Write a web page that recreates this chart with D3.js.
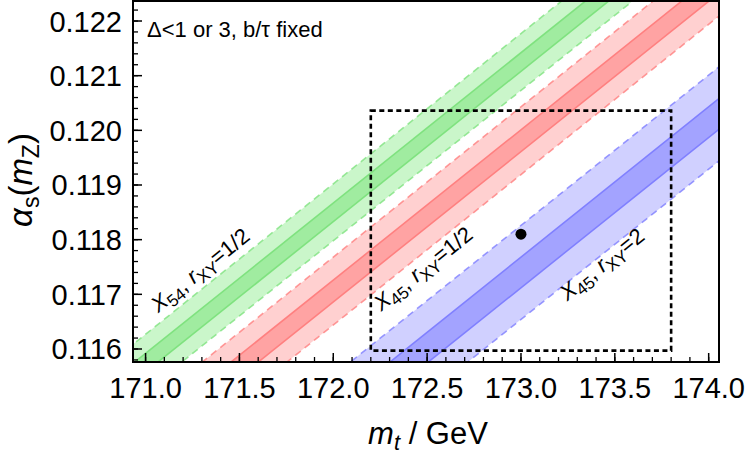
<!DOCTYPE html>
<html>
<head>
<meta charset="utf-8">
<script src="https://cdn.jsdelivr.net/npm/d3@7"></script>
<style>
  body { margin: 0; background: #fff; }
  text { font-family: "Liberation Sans", Arial, sans-serif; }
</style>
</head>
<body>
<div id="chart"></div>
<script>
// alpha_s(mZ) vs m_t bands
var mtDomain = [170.933, 174.055];
var asDomain = [0.115762, 0.122366];
var mtTicks = [171.0, 171.5, 172.0, 172.5, 173.0, 173.5, 174.0];
var asTicks = [0.116, 0.117, 0.118, 0.119, 0.120, 0.121, 0.122];

// each band: straight line alpha_s = centre + slope*(m_t - 173)
var bandNames = ["X54", "X45", "X45"];
var bandRatio = ["1/2", "1/2", "2"];
var bandCentre = [0.12125, 0.11981, 0.11740];   // alpha_s at m_t = 173 GeV
var bandOuter = [0.00052, 0.00062, 0.00086];    // half width, dashed edges
var bandInner = [0.00017, 0.00020, 0.00028];    // half width, solid edges
var bandSlope = 0.00275;                         // d alpha_s / d m_t
var bandFill = ["#a6f0a6", "#ffb0b0", "#b0b0ff"];
var bandCore = ["#8ee88e", "#ff9090", "#9090ff"];
var bandLine = ["#7fe27f", "#ff8080", "#8080ff"];

// label start (m_t) and offset from band centre
var labelMt = [171.067, 172.255, 173.246];
var labelOff = [0.00072, -0.00108, -0.00121];

// expected point and box
var pointMt = 173.0, pointAs = 0.1181;
var boxMt = [172.2, 173.8];
var boxAs = [0.11597, 0.12036];

var W = 750, H = 457;
var pL = 133, pR = 719, pT = 1, pB = 362;

var svg = d3.select("#chart").append("svg")
    .attr("width", W).attr("height", H);

var x = d3.scaleLinear().domain(mtDomain).range([pL, pR]);
var y = d3.scaleLinear().domain(asDomain).range([pB, pT]);

svg.append("clipPath").attr("id", "plotclip")
    .append("rect")
    .attr("x", pL).attr("y", pT)
    .attr("width", pR - pL).attr("height", pB - pT);

var plot = svg.append("g").attr("clip-path", "url(#plotclip)");

var mEnds = [170.5, 174.5];
function lineAt(c, off) {
    return mEnds.map(function(m) { return [x(m), y(c + off + bandSlope * (m - 173))]; });
}
function bandPoly(c, h) {
    var a = lineAt(c, h), b = lineAt(c, -h).reverse();
    return a.concat(b);
}

for (var i = 0; i < bandCentre.length; ++i)
{
    var c = bandCentre[i];
    plot.append("path")
        .attr("d", d3.line()(bandPoly(c, bandOuter[i])) + "Z")
        .attr("fill", bandFill[i]).attr("fill-opacity", 0.6);
    plot.append("path")
        .attr("d", d3.line()(bandPoly(c, bandInner[i])) + "Z")
        .attr("fill", bandCore[i]).attr("fill-opacity", 0.7);
    [bandInner[i], -bandInner[i]].forEach(function(h) {
        plot.append("path")
            .attr("d", d3.line()(lineAt(c, h)))
            .attr("fill", "none").attr("stroke", bandLine[i]).attr("stroke-width", 1.6);
    });
    [bandOuter[i], -bandOuter[i]].forEach(function(h) {
        plot.append("path")
            .attr("d", d3.line()(lineAt(c, h)))
            .attr("fill", "none").attr("stroke", bandLine[i]).attr("stroke-width", 1.6)
            .attr("stroke-dasharray", "7,5").attr("stroke-opacity", 0.8);
    });
}

// dashed box
svg.append("rect")
    .attr("x", x(boxMt[0])).attr("y", y(boxAs[1]))
    .attr("width", x(boxMt[1]) - x(boxMt[0]))
    .attr("height", y(boxAs[0]) - y(boxAs[1]))
    .attr("fill", "none").attr("stroke", "#000").attr("stroke-width", 2.6)
    .attr("stroke-dasharray", "5,3.5");

svg.append("circle")
    .attr("cx", x(pointMt)).attr("cy", y(pointAs)).attr("r", 5.5)
    .attr("fill", "#000");

// band labels
var angle = -Math.atan((y(0.116) - y(0.116 + bandSlope)) / (x(174) - x(173))) * 180 / Math.PI;
for (var i = 0; i < bandCentre.length; ++i)
{
    var m0 = labelMt[i];
    var a0 = bandCentre[i] + labelOff[i] + bandSlope * (m0 - 173);
    var t = svg.append("text")
        .attr("transform", "translate(" + x(m0) + "," + y(a0) + ") rotate(" + angle + ")")
        .style("font-size", "22px");
    t.append("tspan").style("font-style", "italic").text("X");
    t.append("tspan").attr("dy", 5).style("font-size", "17px").text(bandNames[i].substring(1));
    t.append("tspan").attr("dy", -5).text(", ");
    t.append("tspan").style("font-style", "italic").text("r");
    t.append("tspan").attr("dy", 5).style("font-size", "17px").text("XY");
    t.append("tspan").attr("dy", -5).text("=" + bandRatio[i]);
}

svg.append("text")
    .attr("x", 147).attr("y", 37)
    .style("font-size", "22px")
    .text("\u0394<1 or 3, b/\u03c4 fixed");

// frame
svg.append("rect")
    .attr("x", pL).attr("y", pT)
    .attr("width", pR - pL).attr("height", pB - pT)
    .attr("fill", "none").attr("stroke", "#000").attr("stroke-width", 2);

// x ticks
var xMinor = d3.range(171.0, 174.05, 0.1);
svg.selectAll(".xminor").data(xMinor).enter().append("line")
    .attr("x1", function(d) { return x(d); }).attr("x2", function(d) { return x(d); })
    .attr("y1", pB).attr("y2", pB - 5)
    .attr("stroke", "#000").attr("stroke-width", 1.3);
svg.selectAll(".xmajor").data(mtTicks).enter().append("line")
    .attr("x1", function(d) { return x(d); }).attr("x2", function(d) { return x(d); })
    .attr("y1", pB).attr("y2", pB - 9)
    .attr("stroke", "#000").attr("stroke-width", 1.5);
svg.selectAll(".xlab").data(mtTicks).enter().append("text")
    .attr("x", function(d) { return x(d); }).attr("y", 398)
    .attr("text-anchor", "middle").style("font-size", "29px")
    .text(function(d) { return d.toFixed(1); });

// y ticks
var yMinor = d3.range(0.1158, 0.12236, 0.0002);
svg.selectAll(".yminor").data(yMinor).enter().append("line")
    .attr("x1", pL).attr("x2", pL + 5)
    .attr("y1", function(d) { return y(d); }).attr("y2", function(d) { return y(d); })
    .attr("stroke", "#000").attr("stroke-width", 1.3);
svg.selectAll(".ymajor").data(asTicks).enter().append("line")
    .attr("x1", pL).attr("x2", pL + 9)
    .attr("y1", function(d) { return y(d); }).attr("y2", function(d) { return y(d); })
    .attr("stroke", "#000").attr("stroke-width", 1.5);
svg.selectAll(".ylab").data(asTicks).enter().append("text")
    .attr("x", 122).attr("y", function(d) { return y(d) + 10.5; })
    .attr("text-anchor", "end").style("font-size", "29px")
    .text(function(d) { return d.toFixed(3); });

// axis titles
var xt = svg.append("text")
    .attr("x", 428).attr("y", 444)
    .attr("text-anchor", "middle").style("font-size", "31px");
xt.append("tspan").style("font-style", "italic").text("m");
xt.append("tspan").attr("dy", 6).style("font-style", "italic").style("font-size", "22px").text("t");
xt.append("tspan").attr("dy", -6).text(" / GeV");

var yt = svg.append("text")
    .attr("transform", "translate(32,180) rotate(-90)")
    .attr("text-anchor", "middle").style("font-size", "33px");
yt.append("tspan").style("font-style", "italic").text("\u03b1");
yt.append("tspan").attr("dy", 7).style("font-size", "23px").text("s");
yt.append("tspan").attr("dy", -7).text("(");
yt.append("tspan").style("font-style", "italic").text("m");
yt.append("tspan").attr("dy", 7).style("font-size", "23px").text("Z");
yt.append("tspan").attr("dy", -7).text(")");
</script>
</body>
</html>
